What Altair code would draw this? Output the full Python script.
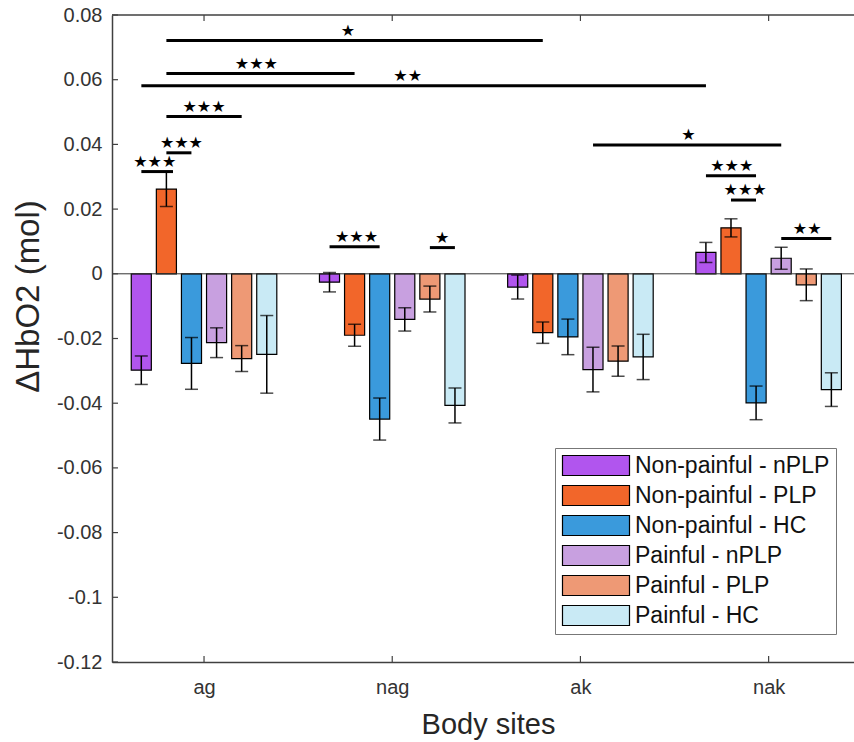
import altair as alt
import pandas as pd

# ---------------- data ----------------
sites = ["ag", "nag", "ak", "nak"]
groups = ["Non-painful - nPLP", "Non-painful - PLP", "Non-painful - HC",
          "Painful - nPLP", "Painful - PLP", "Painful - HC"]
colors = ["#B155EE", "#F2662A", "#3A9ADC", "#C8A0E0", "#EE9975", "#C9EAF5"]

nonpainful_nplp = [-0.0298, -0.0026, -0.0041, 0.0066]
nonpainful_plp = [0.0262, -0.0190, -0.0182, 0.0142]
nonpainful_hc = [-0.0277, -0.0449, -0.0195, -0.0399]
painful_nplp = [-0.0213, -0.0141, -0.0296, 0.0048]
painful_plp = [-0.0262, -0.0078, -0.0270, -0.0034]
painful_hc = [-0.0249, -0.0407, -0.0257, -0.0358]

err_nonpainful_nplp = [0.0044, 0.0030, 0.0037, 0.0031]
err_nonpainful_plp = [0.0054, 0.0034, 0.0033, 0.0028]
err_nonpainful_hc = [0.0080, 0.0065, 0.0055, 0.0052]
err_painful_nplp = [0.0046, 0.0036, 0.0069, 0.0034]
err_painful_plp = [0.0040, 0.0040, 0.0047, 0.0049]
err_painful_hc = [0.0120, 0.0054, 0.0070, 0.0052]

# significance brackets (x in body-site units, y in mol)
sig_x1 = [0.800, 0.800, 0.667, 0.800, 0.800, 0.667, 1.667, 2.200, 3.067, 3.667, 3.800, 4.067]
sig_x2 = [2.800, 1.800, 3.667, 1.200, 0.933, 0.835, 1.933, 2.333, 4.067, 3.933, 3.933, 4.333]
sig_y = [0.0721, 0.0619, 0.0581, 0.0486, 0.0374, 0.0316, 0.0084, 0.0081, 0.0398, 0.0303, 0.0228, 0.0109]
sig_star_x = [1.764, 1.278, 2.082, 1.000, 0.880, 0.738, 1.810, 2.265, 3.574, 3.804, 3.875, 4.205]
sig_label = ["★", "★★★", "★★", "★★★", "★★★", "★★★", "★★★", "★", "★", "★★★", "★★★", "★★"]

yticks = [-0.12, -0.10, -0.08, -0.06, -0.04, -0.02, 0.0, 0.02, 0.04, 0.06, 0.08]
site_pos = [1, 2, 3, 4]

means = [nonpainful_nplp, nonpainful_plp, nonpainful_hc, painful_nplp, painful_plp, painful_hc]
errs = [err_nonpainful_nplp, err_nonpainful_plp, err_nonpainful_hc,
        err_painful_nplp, err_painful_plp, err_painful_hc]

rows = []
for gi, g in enumerate(groups):
    for si, s in enumerate(sites):
        rows.append({"site": site_pos[si], "gi": gi, "group": g,
                     "value": means[gi][si], "err": errs[gi][si]})
bars_df = pd.DataFrame(rows)
sig_df = pd.DataFrame({"x1": sig_x1, "x2": sig_x2, "y": sig_y, "sx": sig_star_x, "label": sig_label})
ytick_df = pd.DataFrame({"t": yticks})
site_df = pd.DataFrame({"s": site_pos})

# ---------------- layout ----------------
W, H = 742, 647
PX_PER_SITE = 188.2
x0 = 0.511
xscale = alt.Scale(domain=[x0, x0 + W / PX_PER_SITE], nice=False, zero=False)
yscale = alt.Scale(domain=[-0.12, 0.08], nice=False, zero=False)
AX = "#404040"
FONT = "Liberation Sans"

step = 0.8 / 6
base = alt.Chart(bars_df).transform_calculate(
    xc=f"datum.site + (datum.gi - 2.5) * {step}",
).transform_calculate(
    xl=f"datum.xc - {step * 0.4}",
    xr=f"datum.xc + {step * 0.4}",
    lo="datum.value - datum.err",
    hi="datum.value + datum.err",
)

label_expr = "[" + ",".join(f"'{s}'" for s in sites) + "][datum.value - 1]"

x_axis = alt.Axis(values=site_pos, labelExpr=label_expr, ticks=False, grid=False,
                  title="Body sites", titleX=376, titleY=71, titleBaseline="alphabetic",
                  titleAlign="center", titleAnchor="start",
                  titleFont=FONT, titleFontWeight="normal", titleColor="#262626",
                  labelFont=FONT, labelColor="#333333",
                  labelPadding=31, labelBaseline="alphabetic",
                  labelFontSize=20, titleFontSize=29,
                  domainColor=AX, domainWidth=1.5)
y_axis = alt.Axis(values=yticks,
                  labelExpr="datum.value == 0 ? '0' : toString(round(datum.value * 100) / 100)",
                  ticks=False, grid=False, labelPadding=10, labelFontSize=20,
                  labelFont=FONT, labelColor="#333333",
                  title="ΔHbO2 (mol)", titleFontSize=33, titleAngle=270,
                  titleFont=FONT, titleFontWeight="normal", titleColor="#262626",
                  titleX=-74, titleY=281, titleBaseline="alphabetic", titleAlign="center",
                  titleAnchor="start",
                  domainColor=AX, domainWidth=1.5)

bars = base.mark_bar(stroke="black", strokeWidth=1.2).encode(
    x=alt.X("xl:Q", scale=xscale, axis=x_axis),
    x2="xr:Q",
    y=alt.Y("value:Q", scale=yscale, axis=y_axis),
    y2=alt.datum(0),
    color=alt.Color("group:N", scale=alt.Scale(domain=groups, range=colors),
                    legend=alt.Legend(orient="none", legendX=443, legendY=433, title=None,
                                      symbolType="M-1,-1H5.7V1H-1Z", symbolSize=400,
                                      symbolStrokeColor="black", symbolStrokeWidth=1.2,
                                      symbolOpacity=1, labelFontSize=23, labelFont=FONT,
                                      labelColor="#111111", labelOffset=51, labelLimit=400,
                                      rowPadding=5, padding=6, strokeColor="#777777",
                                      fillColor="white", cornerRadius=0)),
)

zero = alt.Chart(pd.DataFrame({"z": [0.0]})).mark_rule(color="#333333", strokeWidth=1).encode(
    y=alt.Y("z:Q", title="ΔHbO2 (mol)")
)

ebar = base.mark_rule(color="black", strokeWidth=1.5).encode(
    x=alt.X("xc:Q", title="Body sites"),
    y=alt.Y("lo:Q", title="ΔHbO2 (mol)"),
    y2="hi:Q",
)

caps = base.transform_fold(["lo", "hi"], as_=["k", "v"]).mark_tick(
    orient="horizontal", size=13, thickness=1.5, color="black"
).encode(
    x=alt.X("xc:Q", title="Body sites"),
    y=alt.Y("v:Q", title="ΔHbO2 (mol)"),
)

sig_lines = alt.Chart(sig_df).mark_rule(color="black", strokeWidth=3).encode(
    x=alt.X("x1:Q", title="Body sites"),
    x2="x2:Q",
    y=alt.Y("y:Q", title="ΔHbO2 (mol)"),
)

stars = alt.Chart(sig_df).mark_text(font="DejaVu Sans", fontSize=16, baseline="middle",
                                    dy=-10, color="black").encode(
    x=alt.X("sx:Q", title="Body sites"),
    y=alt.Y("y:Q", title="ΔHbO2 (mol)"),
    text="label:N",
)

# MATLAB-style inward ticks and top border
left_ticks = alt.Chart(ytick_df).mark_rule(color=AX, strokeWidth=1.2).encode(
    y=alt.Y("t:Q", title="ΔHbO2 (mol)"), x=alt.value(0), x2=alt.value(6)
)
bottom_ticks = alt.Chart(site_df).mark_rule(color=AX, strokeWidth=1.2).encode(
    x=alt.X("s:Q", title="Body sites"), y=alt.value(H), y2=alt.value(H - 6)
)
top_ticks = alt.Chart(site_df).mark_rule(color=AX, strokeWidth=1.2).encode(
    x=alt.X("s:Q", title="Body sites"), y=alt.value(0), y2=alt.value(6)
)
top_border = alt.Chart(pd.DataFrame({"a": [0]})).mark_rule(color=AX, strokeWidth=1.5).encode(
    x=alt.value(0), x2=alt.value(W), y=alt.value(0)
)

chart = alt.layer(
    bars, zero, ebar, caps, sig_lines, stars, left_ticks, bottom_ticks, top_ticks, top_border
).properties(
    width=W, height=H,
    padding={"left": 112, "top": 15, "right": 0, "bottom": 80},
    autosize=alt.AutoSizeParams(type="none"),
).configure_view(stroke=None)

chart.save("out.html", embed_options={"renderer": "svg", "actions": False})
